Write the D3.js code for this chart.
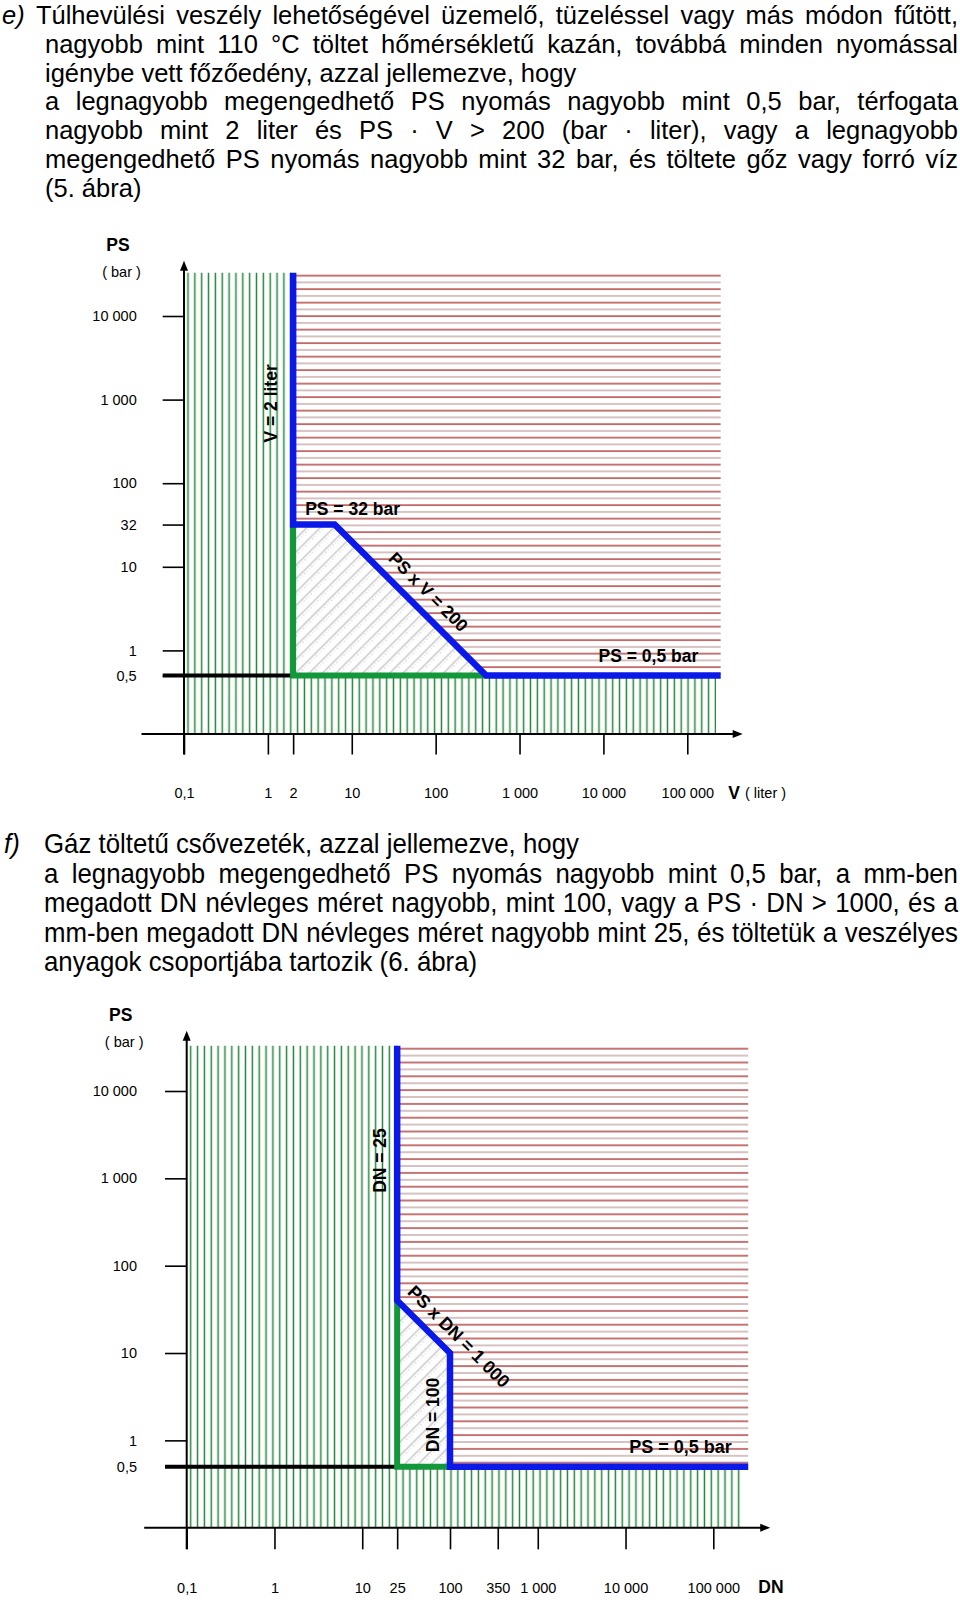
<!DOCTYPE html>
<html><head><meta charset="utf-8">
<script src="https://cdn.jsdelivr.net/npm/d3@7"></script>
<style>
body{margin:0;background:#fff;}
svg{display:block;}
text{font-family:"Liberation Sans", Arial, Helvetica, sans-serif;fill:#000;}
</style></head><body>
<svg id="page" width="960" height="1600"></svg>
<script>
// ---------------- DATA ----------------
const textE = [
  "e) Túlhevülési veszély lehetőségével üzemelő, tüzeléssel vagy más módon fűtött,",
  "nagyobb mint 110 °C töltet hőmérsékletű kazán, továbbá minden nyomással",
  "igénybe vett főzőedény, azzal jellemezve, hogy",
  "a legnagyobb megengedhető PS nyomás nagyobb mint 0,5 bar, térfogata",
  "nagyobb mint 2 liter és PS · V > 200 (bar · liter), vagy a legnagyobb",
  "megengedhető PS nyomás nagyobb mint 32 bar, és töltete gőz vagy forró víz",
  "(5. ábra)"
];
const justifyE = [true, true, false, true, true, true, false];

const textF = [
  "Gáz töltetű csővezeték, azzal jellemezve, hogy",
  "a legnagyobb megengedhető PS nyomás nagyobb mint 0,5 bar, a mm-ben",
  "megadott DN névleges méret nagyobb, mint 100, vagy a PS · DN > 1000, és a",
  "mm-ben megadott DN névleges méret nagyobb mint 25, és töltetük a veszélyes",
  "anyagok csoportjába tartozik (6. ábra)"
];
const justifyF = [false, true, true, true, false];

const psDomain = [0.1, 10000];
const xDomain = [0.1, 100000];
const psTop = 33000;        // top of shaded areas
const xRight = 250000;      // right end of red area / blue line
const xGreenRight = 220000; // right end of green lines

// chart 1 (V)
const psTicks1 = [10000, 1000, 100, 32, 10, 1, 0.5];
const psTickLabels1 = ["10 000", "1 000", "100", "32", "10", "1", "0,5"];
const vTicks = [0.1, 1, 2, 10, 100, 1000, 10000, 100000];
const vTickLabels = ["0,1", "1", "2", "10", "100", "1 000", "10 000", "100 000"];
const blue1 = [[2, psTop], [2, 32], [6.25, 32], [400, 0.5], [xRight, 0.5]];
const greenEdge1 = [[2, 32], [2, 0.5], [400, 0.5]];
const hatch1 = [[2, 32], [6.25, 32], [400, 0.5], [2, 0.5]];
const red1 = [[2, psTop], [xRight, psTop], [xRight, 0.5], [400, 0.5], [6.25, 32], [2, 32]];
const green1 = [[0.1, 0.1], [0.1, psTop], [2, psTop], [2, 0.5], [xGreenRight, 0.5], [xGreenRight, 0.1]];
const black1 = [2, 0.5];

// chart 2 (DN)
const psTicks2 = [10000, 1000, 100, 10, 1, 0.5];
const psTickLabels2 = ["10 000", "1 000", "100", "10", "1", "0,5"];
const dnTicks = [0.1, 1, 10, 25, 100, 350, 1000, 10000, 100000];
const dnTickLabels = ["0,1", "1", "10", "25", "100", "350", "1 000", "10 000", "100 000"];
const blue2 = [[25, psTop], [25, 40], [100, 10], [100, 0.5], [xRight, 0.5]];
const greenEdge2 = [[25, 40], [25, 0.5], [100, 0.5]];
const hatch2 = [[25, 40], [100, 10], [100, 0.5], [25, 0.5]];
const red2 = [[25, psTop], [xRight, psTop], [xRight, 0.5], [100, 0.5], [100, 10], [25, 40]];
const green2 = [[0.1, 0.1], [0.1, psTop], [25, psTop], [25, 0.5], [xGreenRight, 0.5], [xGreenRight, 0.1]];
const black2 = [25, 0.5];

// ---------------- DRAWING ----------------
const FONT = '"Liberation Sans", Arial, Helvetica, sans-serif';
const svg = d3.select("#page");
const defs = svg.append("defs");

function textBlock(lines, just, o) {
  lines.forEach((ln, i) => {
    const base = o.y0 + i * o.dy;
    const words = ln.split(" ");
    const x0 = (i === 0 && o.firstX0 !== undefined) ? o.firstX0 : o.x0;
    const nodes = words.map(w => {
      const t = svg.append("text").attr("font-size", o.size).text(w);
      if (/^[ef]\)$/.test(w)) t.attr("font-style", "italic");
      return t;
    });
    const widths = nodes.map(n => n.node().getComputedTextLength());
    const total = d3.sum(widths);
    const gap = just[i] && words.length > 1 ? (o.x1 - x0 - total) / (words.length - 1) : o.size * 0.278;
    let cx = x0;
    nodes.forEach((n, j) => {
      n.attr("transform", `translate(${cx},${base}) scale(1,${o.sy || 1})`);
      cx += widths[j] + gap;
    });
  });
}

textBlock(textE, justifyE, {x0: 45, firstX0: 2, x1: 958, y0: 23.6, dy: 28.95, size: 25.5});
svg.append("text").attr("font-size", 25.8).attr("font-style", "italic")
  .attr("transform", "translate(4,853) scale(1,1.07)").text("f)");
textBlock(textF, justifyF, {x0: 44, x1: 958, y0: 853, dy: 29.6, size: 25.8, sy: 1.07});

function drawChart(c) {
  const g = svg.append("g");
  const x = d3.scaleLog().domain(xDomain).range(c.xRange);
  const y = d3.scaleLog().domain(psDomain).range(c.yRange);
  const line = d3.line().x(d => x(d[0])).y(d => y(d[1]));
  const ax = x(xDomain[0]), ay = y(psDomain[0]);

  // patterns
  defs.append("pattern").attr("id", "green" + c.id).attr("patternUnits", "userSpaceOnUse")
    .attr("x", ax + 0.6).attr("y", 0).attr("width", c.gStep).attr("height", 20)
    .append("line").attr("x1", 3.4).attr("x2", 3.4).attr("y1", 0).attr("y2", 20)
    .attr("stroke", "#23863a").attr("stroke-width", 1.5);
  const rp = defs.append("pattern").attr("id", "red" + c.id).attr("patternUnits", "userSpaceOnUse")
    .attr("x", 0).attr("y", y(psTop) + 2).attr("width", 20).attr("height", c.rStep * 2);
  rp.append("line").attr("x1", 0).attr("x2", 20).attr("y1", 1).attr("y2", 1)
    .attr("stroke", "#a82a2a").attr("stroke-width", 1.3);
  rp.append("line").attr("x1", 0).attr("x2", 20).attr("y1", 1 + c.rStep).attr("y2", 1 + c.rStep)
    .attr("stroke", "#c2a0a0").attr("stroke-width", 1.3);
  const hp = defs.append("pattern").attr("id", "hatch" + c.id).attr("patternUnits", "userSpaceOnUse")
    .attr("width", 9.5).attr("height", 10).attr("patternTransform", "rotate(45)");
  hp.append("line").attr("x1", 1).attr("x2", 1).attr("y1", 0).attr("y2", 10)
    .attr("stroke", "#8a8a8a").attr("stroke-width", 0.7);
  hp.append("line").attr("x1", 3.6).attr("x2", 3.6).attr("y1", 0).attr("y2", 10)
    .attr("stroke", "#c0c0c0").attr("stroke-width", 0.7).attr("stroke-dasharray", "1 2");

  // regions
  g.append("path").attr("d", line(c.green) + "Z").attr("fill", `url(#green${c.id})`);
  g.append("path").attr("d", line(c.red) + "Z").attr("fill", `url(#red${c.id})`);
  g.append("path").attr("d", line(c.hatch) + "Z").attr("fill", "#fff");
  g.append("path").attr("d", line(c.hatch) + "Z").attr("fill", `url(#hatch${c.id})`);

  // black line at 0.5 bar
  g.append("line").attr("x1", ax - c.yTick).attr("x2", x(c.black[0]))
    .attr("y1", y(c.black[1])).attr("y2", y(c.black[1]))
    .attr("stroke", "#000").attr("stroke-width", 4);
  // green edge
  g.append("path").attr("d", line(c.greenEdge)).attr("fill", "none")
    .attr("stroke", "#12983a").attr("stroke-width", 6).attr("stroke-linejoin", "miter");
  // blue boundary
  g.append("path").attr("d", line(c.blue)).attr("fill", "none")
    .attr("stroke", "#0a18e8").attr("stroke-width", 6.5).attr("stroke-linejoin", "miter");

  // axes (ticks + labels)
  const yAxis = d3.axisLeft(y).tickValues(c.psTicks).tickFormat((d, i) => c.psLabels[i])
    .tickSize(c.yTick).tickPadding(c.yPad);
  const ya = g.append("g").attr("transform", `translate(${ax},0)`).call(yAxis);
  const xAxis = d3.axisBottom(x).tickValues(c.xTicks).tickFormat((d, i) => c.xLabels[i])
    .tickSize(c.xTick).tickPadding(33.5);
  const xa = g.append("g").attr("transform", `translate(0,${ay})`).call(xAxis);
  [ya, xa].forEach(a => {
    a.select(".domain").remove();
    a.attr("font-family", FONT).attr("font-size", 14.5);
    a.selectAll("line").attr("stroke", "#000").attr("stroke-width", 1.6);
    a.selectAll("text").attr("fill", "#000");
  });

  // axis lines with arrows
  const tipY = y(psTop) - c.arrowUp, tipX = x(xRight) + 22;
  g.append("line").attr("x1", ax).attr("x2", ax).attr("y1", ay + c.xTick).attr("y2", tipY + 6)
    .attr("stroke", "#000").attr("stroke-width", 2);
  g.append("path").attr("d", `M${ax},${tipY} L${ax - 4},${tipY + 10} L${ax + 4},${tipY + 10} Z`).attr("fill", "#000");
  g.append("line").attr("x1", ax - 42.5).attr("x2", tipX - 6).attr("y1", ay).attr("y2", ay)
    .attr("stroke", "#000").attr("stroke-width", 2);
  g.append("path").attr("d", `M${tipX},${ay} L${tipX - 10},${ay - 4} L${tipX - 10},${ay + 4} Z`).attr("fill", "#000");

  // axis titles
  g.append("text").attr("x", ax - 66).attr("y", tipY - 16).attr("text-anchor", "middle")
    .attr("dominant-baseline", "central").attr("font-weight", "bold").attr("font-size", 17.5).text("PS");
  g.append("text").attr("x", ax - 62.5).attr("y", tipY + 11).attr("text-anchor", "middle")
    .attr("dominant-baseline", "central").attr("font-size", 14.5).text("( bar )");
  const xt = g.append("text").attr("x", x(xDomain[1]) + c.xTitleDx).attr("y", ay + 59)
    .attr("dominant-baseline", "central");
  xt.append("tspan").attr("font-weight", "bold").attr("font-size", 17.5).text(c.xTitle);
  if (c.xUnit) xt.append("tspan").attr("font-size", 14.5).attr("dx", 5).text(c.xUnit);

  // in-chart labels
  c.labels.forEach(l => {
    g.append("text").attr("transform", `translate(${l.pos(x, y)}) rotate(${l.rot || 0})`)
      .attr("text-anchor", l.anchor || "middle").attr("dominant-baseline", "central")
      .attr("font-weight", "bold").attr("font-size", l.size || 17.5).text(l.text);
  });
}

drawChart({
  id: 1, xRange: [184, 687.3], yRange: [734, 316], gStep: 6.85, rStep: 6.75,
  green: green1, red: red1, hatch: hatch1, greenEdge: greenEdge1, blue: blue1, black: black1,
  psTicks: psTicks1, psLabels: psTickLabels1, xTicks: vTicks, xLabels: vTickLabels,
  yTick: 21.3, yPad: 26, xTick: 20.5, arrowUp: 12, xTitle: "V", xUnit: "( liter )", xTitleDx: 41,
  labels: [
    {text: "V = 2 liter", rot: -90, pos: (x, y) => [x(2) - 22.5, y(900)]},
    {text: "PS = 32 bar", anchor: "start", pos: (x, y) => [x(2) + 12, y(32) - 16]},
    {text: "PS x V = 200", rot: 45, pos: (x, y) => [x(40) + 26, y(5)]},
    {text: "PS = 0,5 bar", anchor: "end", pos: (x, y) => [x(100000) + 11, y(0.5) - 20]}
  ]
});

drawChart({
  id: 2, xRange: [186.7, 713.3], yRange: [1527.7, 1091], gStep: 6.85, rStep: 6.9,
  green: green2, red: red2, hatch: hatch2, greenEdge: greenEdge2, blue: blue2, black: black2,
  psTicks: psTicks2, psLabels: psTickLabels2, xTicks: dnTicks, xLabels: dnTickLabels,
  yTick: 21.7, yPad: 28, xTick: 21.6, arrowUp: 15, xTitle: "DN", xUnit: null, xTitleDx: 45,
  labels: [
    {text: "DN = 25", rot: -90, pos: (x, y) => [x(25) - 17, y(1600)]},
    {text: "PS x DN = 1 000", rot: 45, size: 18, pos: (x, y) => [x(50) + 35, y(20) + 10]},
    {text: "DN = 100", rot: -90, pos: (x, y) => [x(100) - 16.7, y(1.95)]},
    {text: "PS = 0,5 bar", anchor: "end", size: 18, pos: (x, y) => [x(100000) + 18.4, y(0.5) - 19.4]}
  ]
});
</script>
</body></html>
